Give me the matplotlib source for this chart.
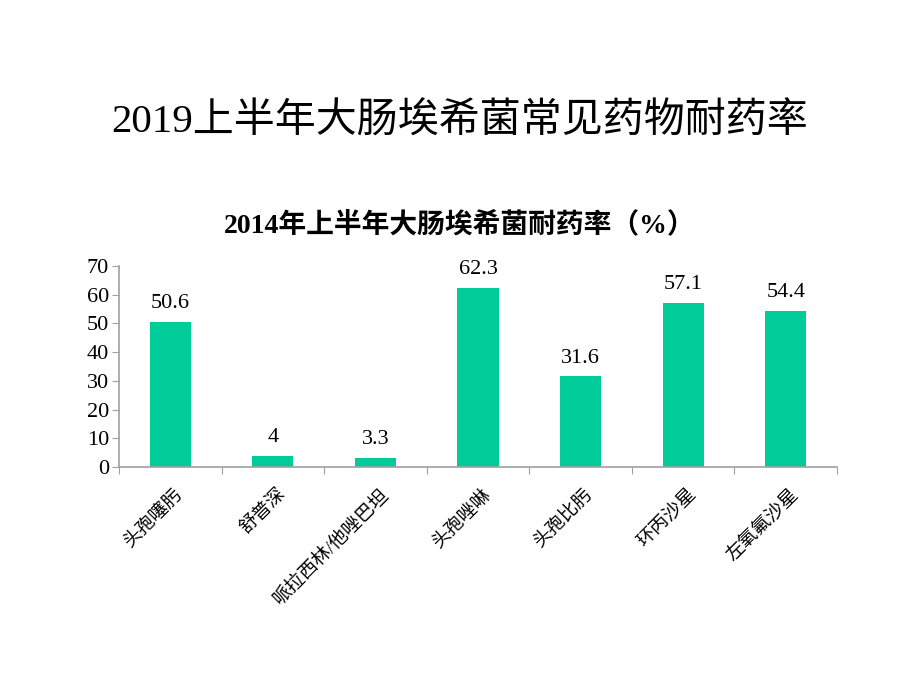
import numpy as np
from matplotlib import pyplot as plt

drugs = ["头孢噻肟", "舒普深", "哌拉西林/他唑巴坦", "头孢唑啉", "头孢比肟", "环丙沙星", "左氧氟沙星"]
rates = [50.6, 4, 3.3, 62.3, 31.6, 57.1, 54.4]
rate_labels = ["50.6", "4", "3.3", "62.3", "31.6", "57.1", "54.4"]

plt.rcParams['font.family'] = ['Liberation Serif', 'Noto Sans CJK SC']

fig = plt.figure(figsize=(9.2, 6.9), dpi=100)
ax = fig.add_axes([0.1293, 0.3232, 0.7805, 0.2913])

x = np.arange(len(drugs))
ax.bar(x, rates, width=0.4, color="#00CC99")
for xi, v, t in zip(x, rates, rate_labels):
    ax.text(xi, v + 3.0, t, ha="center", va="bottom", fontsize=16)

ax.set_xlim(-0.5, len(drugs) - 0.5)
ax.set_ylim(0, 70)
ax.set_yticks(range(0, 71, 10))
ax.tick_params(axis="y", labelsize=16, length=5, color="#A0A0A0", pad=2)

ax.set_xticks(np.arange(-0.5, len(drugs), 1.0))
ax.set_xticklabels([])
ax.tick_params(axis="x", length=5, color="#A0A0A0")
for xi, name in zip(x, drugs):
    ax.text(xi + 0.04, -6.5, name, rotation=45, ha="right", va="top",
            rotation_mode="anchor", fontsize=13.5)

for s in ["top", "right"]:
    ax.spines[s].set_visible(False)
for s in ["left", "bottom"]:
    ax.spines[s].set_color("#A0A0A0")
    ax.spines[s].set_linewidth(1.2)

fig.text(0.5, 0.823, "2019上半年大肠埃希菌常见药物耐药率", ha="center", va="center", fontsize=29.5)
fig.text(0.5, 0.674, "2014年上半年大肠埃希菌耐药率（%）", ha="center", va="center",
         fontsize=20, fontweight="bold")

fig.savefig("out.png", dpi=100)
